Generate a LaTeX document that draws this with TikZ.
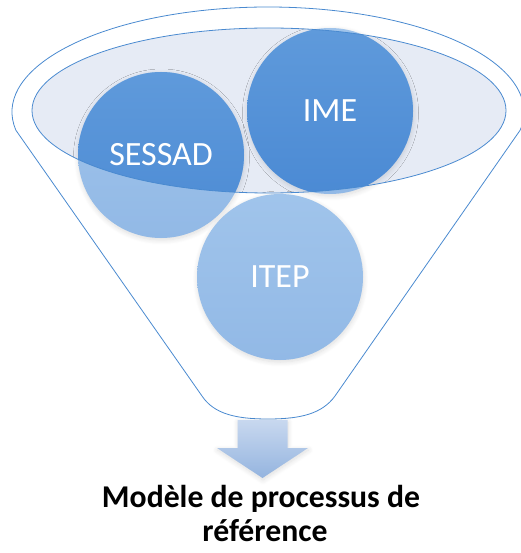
\documentclass[tikz,border=0pt]{standalone}
\usepackage{fontspec}
\setmainfont{Carlito}
\usetikzlibrary{shadows.blur}

\definecolor{funnelline}{HTML}{4A8AD0}
\definecolor{rimfill}{HTML}{E6EBF5}
\definecolor{deepblue}{HTML}{4B8AD4}
\definecolor{deepblueTop}{HTML}{5F9ADB}
\definecolor{paleblue}{HTML}{92B9E6}
\definecolor{paleblueTop}{HTML}{A0C4EB}
\definecolor{arrowTop}{HTML}{C8D8EF}
\definecolor{arrowBottom}{HTML}{94B4DF}

\tikzset{
  softshadow/.style={blur shadow={shadow xshift=0.5pt, shadow yshift=-2pt,
      shadow blur radius=5pt, shadow blur steps=8, shadow opacity=14}},
  bubble/.style={circle, minimum size=166pt, inner sep=0pt, draw=none,
      top color=paleblueTop, bottom color=paleblue, softshadow},
  bubbletext/.style={text=white, font=\fontsize{34}{37}\selectfont},
  caption/.style={font=\bfseries\fontsize{31.7}{34}\selectfont, anchor=base},
}

\begin{document}
\begin{tikzpicture}[x=1pt, y=-1pt]
\useasboundingbox (0,0) rectangle (520,553);

% funnel outline: upper arc of the mouth, tapering sides, rounded spout
\draw[funnelline, line width=0.8pt, line join=round]
  (268,112) ++(170:256 and 105)
  arc[start angle=170, end angle=370, x radius=256, y radius=105]
  -- (335,396)
  .. controls (322,414) and (300,419) .. (268,419)
  .. controls (236,419) and (214,414) .. (202,396)
  -- cycle;

% inner rim of the funnel
\coordinate (rimc) at (269,110.5);
\fill[rimfill] (rimc) ellipse [x radius=237, y radius=82.5];

% the three bubbles, pale where they hang below the rim
\node[bubble] (sessad) at (161,155) {};
\node[bubble] (ime) at (330,111) {};
\node[bubble] (itep) at (280,277) {};

\begin{scope}
  \clip (rimc) ellipse [x radius=237, y radius=82.5];
  \shade[top color=deepblueTop, bottom color=deepblue] (sessad.center) circle (83);
  \shade[top color=deepblueTop, bottom color=deepblue] (ime.center) circle (83);
\end{scope}

\draw[funnelline, line width=0.8pt] (rimc) ellipse [x radius=237, y radius=82.5];

\node[bubbletext] (sessadlabel) at (sessad.center) {SESSAD};
\node[bubbletext] (imelabel) at (ime.center) {IME};
\node[bubbletext] (iteplabel) at (itep.center) {ITEP};

% down arrow leaving the spout
\shade[top color=arrowTop, bottom color=arrowBottom, softshadow]
  (237.5,420) -- (287.5,420) -- (287.5,448) -- (308,448)
  -- (262.5,478) -- (217,448) -- (237.5,448) -- cycle;

\node[caption] (cap1) at (261,507) {Modèle de processus de};
\node[caption] (cap2) at (265,541) {référence};
\end{tikzpicture}
\end{document}
